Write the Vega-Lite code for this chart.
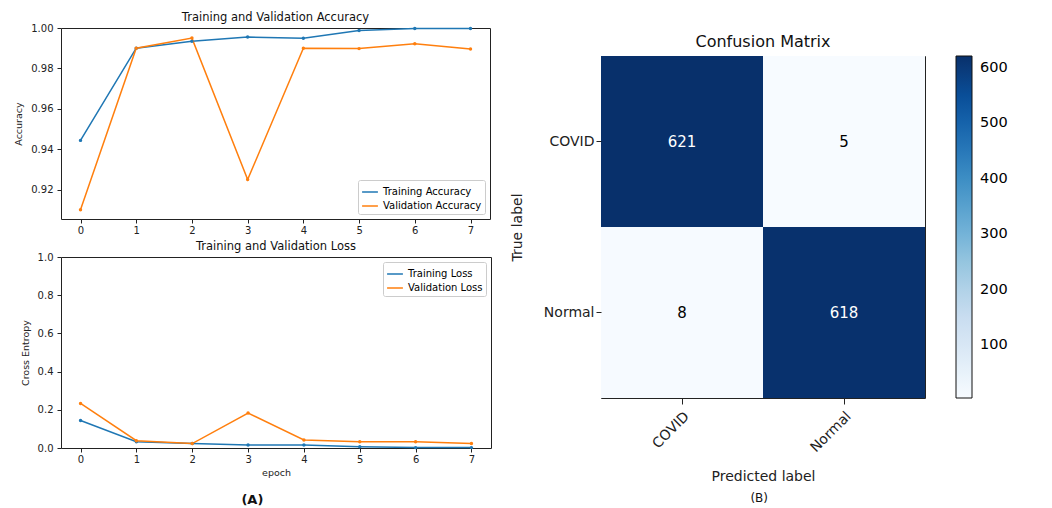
{
  "$schema": "https://vega.github.io/schema/vega-lite/v6.json",
  "background": "white",
  "padding": {"left": 13, "top": 11, "right": 5, "bottom": 5},
  "config": {
    "font": "DejaVu Sans",
    "view": {"stroke": "#222", "strokeWidth": 1},
    "axis": {"grid": false, "domain": false, "tickColor": "#222", "labelColor": "#222", "titleColor": "#222", "titleFontWeight": "normal"},
    "title": {"fontWeight": "normal", "color": "#111"}
  },
  "datasets": {
    "acc": [
      {"epoch": 0, "series": "Training Accuracy", "value": 0.9444},
      {"epoch": 1, "series": "Training Accuracy", "value": 0.990},
      {"epoch": 2, "series": "Training Accuracy", "value": 0.9934},
      {"epoch": 3, "series": "Training Accuracy", "value": 0.9955},
      {"epoch": 4, "series": "Training Accuracy", "value": 0.9949},
      {"epoch": 5, "series": "Training Accuracy", "value": 0.9988},
      {"epoch": 6, "series": "Training Accuracy", "value": 0.9997},
      {"epoch": 7, "series": "Training Accuracy", "value": 0.9997},
      {"epoch": 0, "series": "Validation Accuracy", "value": 0.9101},
      {"epoch": 1, "series": "Validation Accuracy", "value": 0.990},
      {"epoch": 2, "series": "Validation Accuracy", "value": 0.995},
      {"epoch": 3, "series": "Validation Accuracy", "value": 0.925},
      {"epoch": 4, "series": "Validation Accuracy", "value": 0.990},
      {"epoch": 5, "series": "Validation Accuracy", "value": 0.9898},
      {"epoch": 6, "series": "Validation Accuracy", "value": 0.9922},
      {"epoch": 7, "series": "Validation Accuracy", "value": 0.9896}
    ],
    "loss": [
      {"epoch": 0, "series": "Training Loss", "value": 0.144},
      {"epoch": 1, "series": "Training Loss", "value": 0.033},
      {"epoch": 2, "series": "Training Loss", "value": 0.024},
      {"epoch": 3, "series": "Training Loss", "value": 0.016},
      {"epoch": 4, "series": "Training Loss", "value": 0.016},
      {"epoch": 5, "series": "Training Loss", "value": 0.007},
      {"epoch": 6, "series": "Training Loss", "value": 0.002},
      {"epoch": 7, "series": "Training Loss", "value": 0.002},
      {"epoch": 0, "series": "Validation Loss", "value": 0.233},
      {"epoch": 1, "series": "Validation Loss", "value": 0.038},
      {"epoch": 2, "series": "Validation Loss", "value": 0.023},
      {"epoch": 3, "series": "Validation Loss", "value": 0.183},
      {"epoch": 4, "series": "Validation Loss", "value": 0.042},
      {"epoch": 5, "series": "Validation Loss", "value": 0.033},
      {"epoch": 6, "series": "Validation Loss", "value": 0.033},
      {"epoch": 7, "series": "Validation Loss", "value": 0.024}
    ],
    "cm": [
      {"actual": "COVID", "predicted": "COVID", "count": 621},
      {"actual": "COVID", "predicted": "Normal", "count": 5},
      {"actual": "Normal", "predicted": "COVID", "count": 8},
      {"actual": "Normal", "predicted": "Normal", "count": 618}
    ],
    "empty": []
  },
  "resolve": {"scale": {"color": "independent"}, "legend": {"color": "independent"}},
  "spacing": 17,
  "hconcat": [
    {
      "title": {"text": "(A)", "orient": "bottom", "anchor": "middle", "fontSize": 13, "fontWeight": "bold", "offset": 17},
      "resolve": {"scale": {"color": "independent"}, "legend": {"color": "independent"}},
      "spacing": 4,
      "vconcat": [
        {
          "width": 429,
          "height": 191,
          "title": {"text": "Training and Validation Accuracy", "fontSize": 11.5, "offset": 0},
          "data": {"name": "acc"},
          "mark": {"type": "line", "strokeWidth": 1.5, "point": {"filled": true, "size": 12}},
          "encoding": {
            "x": {"field": "epoch", "type": "quantitative", "scale": {"domain": [-0.35, 7.35], "nice": false, "zero": false},
                  "axis": {"values": [0,1,2,3,4,5,6,7], "format": "d", "title": null, "labelFontSize": 10, "tickSize": 4}},
            "y": {"field": "value", "type": "quantitative", "scale": {"domain": [0.9055, 1.0], "nice": false, "zero": false},
                  "axis": {"values": [0.92,0.94,0.96,0.98,1.0], "format": ".2f", "title": "Accuracy", "labelFontSize": 10, "titleFontSize": 9.5, "tickSize": 4, "labelPadding": 4, "titlePadding": 7}},
            "color": {"field": "series", "type": "nominal",
                      "scale": {"domain": ["Training Accuracy", "Validation Accuracy"], "range": ["#1f77b4", "#ff7f0e"]},
                      "legend": {"title": null, "orient": "bottom-right", "offset": 5, "fillColor": "white", "strokeColor": "#ccc", "padding": 3, "cornerRadius": 2,
                                 "labelFontSize": 10, "symbolType": "stroke", "symbolStrokeWidth": 1.5, "symbolSize": 250, "rowPadding": 0}}
          }
        },
        {
          "width": 430,
          "height": 191,
          "title": {"text": "Training and Validation Loss", "fontSize": 11.5, "offset": 0},
          "data": {"name": "loss"},
          "mark": {"type": "line", "strokeWidth": 1.5, "point": {"filled": true, "size": 12}},
          "encoding": {
            "x": {"field": "epoch", "type": "quantitative", "scale": {"domain": [-0.35, 7.35], "nice": false, "zero": false},
                  "axis": {"values": [0,1,2,3,4,5,6,7], "format": "d", "title": "epoch", "labelFontSize": 10, "titleFontSize": 9.5, "tickSize": 4, "titlePadding": 3}},
            "y": {"field": "value", "type": "quantitative", "scale": {"domain": [0, 1], "nice": false},
                  "axis": {"values": [0,0.2,0.4,0.6,0.8,1.0], "format": ".1f", "title": "Cross Entropy", "labelFontSize": 10, "titleFontSize": 9.5, "tickSize": 4, "labelPadding": 4, "titlePadding": 7}},
            "color": {"field": "series", "type": "nominal",
                      "scale": {"domain": ["Training Loss", "Validation Loss"], "range": ["#1f77b4", "#ff7f0e"]},
                      "legend": {"title": null, "orient": "top-right", "offset": 5, "fillColor": "white", "strokeColor": "#ccc", "padding": 3, "cornerRadius": 2,
                                 "labelFontSize": 10, "symbolType": "stroke", "symbolStrokeWidth": 1.5, "symbolSize": 250, "rowPadding": 0}}
          }
        }
      ]
    },
    {
      "title": {"text": "(B)", "orient": "bottom", "anchor": "middle", "fontSize": 12, "offset": 9},
      "resolve": {"scale": {"color": "independent"}, "legend": {"color": "independent"}},
      "spacing": 4,
      "vconcat": [
        {
          "width": 324,
          "height": 1,
          "view": {"stroke": null},
          "data": {"name": "empty"},
          "mark": {"type": "rect"},
          "encoding": {}
        },
        {
          "width": 324,
          "height": 342,
          "title": {"text": "Confusion Matrix", "fontSize": 16, "offset": 6},
          "data": {"name": "cm"},
          "encoding": {
            "x": {"field": "predicted", "type": "nominal", "sort": ["COVID", "Normal"], "scale": {"paddingInner": 0, "paddingOuter": 0},
                  "axis": {"title": "Predicted label", "labelAngle": -45, "labelFontSize": 14, "titleFontSize": 14, "tickSize": 6, "labelPadding": 5, "titlePadding": 15}},
            "y": {"field": "actual", "type": "nominal", "sort": ["COVID", "Normal"], "scale": {"paddingInner": 0, "paddingOuter": 0},
                  "axis": {"title": "True label", "labelFontSize": 14, "titleFontSize": 14, "tickSize": 5, "labelAngle": 0, "titlePadding": 19}}
          },
          "resolve": {"legend": {"color": "independent"}},
          "layer": [
            {
              "mark": {"type": "rect"},
              "encoding": {
                "color": {"field": "count", "type": "quantitative",
                          "scale": {"domain": [5, 82, 159, 236, 313, 390, 467, 544, 621],
                                    "range": ["#f7fbff", "#deebf7", "#c6dbef", "#9ecae1", "#6baed6", "#4292c6", "#2171b5", "#08519c", "#08306b"]},
                          "legend": {"title": null, "type": "gradient", "direction": "vertical", "gradientLength": 342, "gradientThickness": 16,
                                     "offset": 31, "values": [100, 200, 300, 400, 500, 600], "labelFontSize": 14.5, "labelOverlap": false,
                                     "gradientStrokeColor": "#111", "gradientStrokeWidth": 1, "labelOffset": 8, "padding": 0}}
              }
            },
            {
              "mark": {"type": "text", "fontSize": 15},
              "encoding": {
                "text": {"field": "count", "type": "quantitative"},
                "color": {"condition": {"test": "datum.count > 310", "value": "white"}, "value": "black"}
              }
            }
          ]
        }
      ]
    }
  ]
}
